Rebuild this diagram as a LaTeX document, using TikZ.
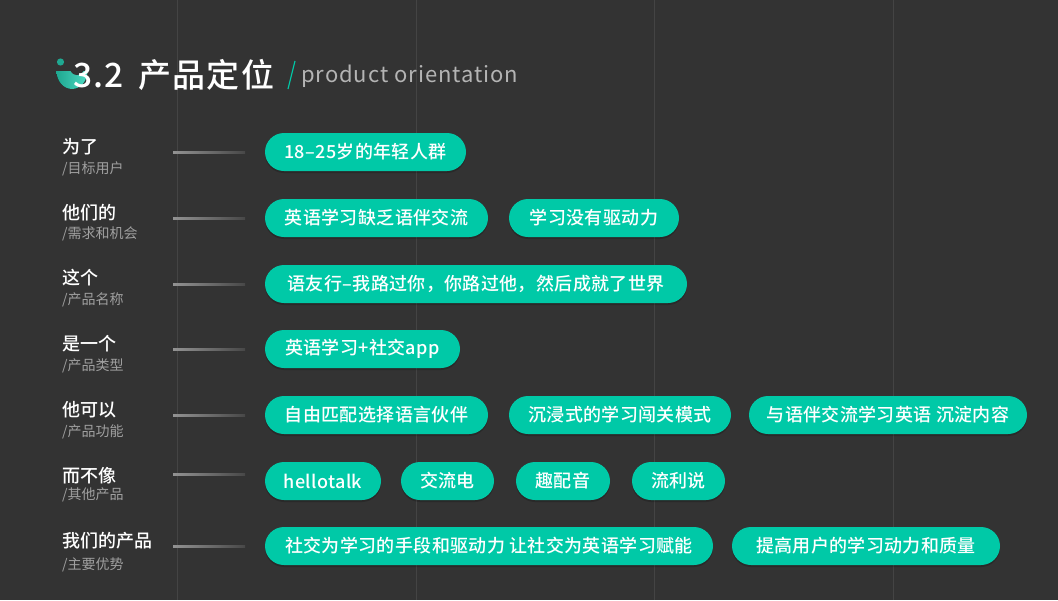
\documentclass[tikz,border=0pt]{standalone}
\usepackage{fontspec}
\setmainfont{Noto Sans CJK SC Medium}
\newfontfamily\titlefont[LetterSpace=4]{Noto Sans CJK SC Medium}
\newfontfamily\lightfont[LetterSpace=4.3]{Noto Sans CJK SC}
\newfontfamily\pillfont[LetterSpace=2]{Noto Sans CJK SC Medium}
\newfontfamily\subfont{Noto Sans CJK SC}
\usetikzlibrary{shadows}
\definecolor{bgdark}{HTML}{333333}
\definecolor{gridgray}{HTML}{444444}
\definecolor{pillgreen}{HTML}{00C9A7}
\definecolor{logogreen}{HTML}{1FA891}
\definecolor{subgray}{HTML}{A0A0A0}
\definecolor{engray}{HTML}{B4B4B4}
\tikzset{
  pill/.style={fill=pillgreen,rounded corners=19pt,minimum height=38pt,text=white,inner sep=0pt,
    font=\pillfont\fontsize{18}{18}\selectfont,
    drop shadow={shadow xshift=0pt,shadow yshift=-2pt,opacity=.18,fill=black}},
  rowlabel/.style={anchor=west,inner sep=0pt,text=white,font=\fontsize{18}{18}\selectfont},
  sublabel/.style={anchor=west,inner sep=0pt,text=subgray,font=\subfont\fontsize{14}{14}\selectfont},
}
\begin{document}
\begin{tikzpicture}[x=1pt,y=-1pt]
  \useasboundingbox (0,0) rectangle (1058,600);
  \fill[bgdark] (0,0) rectangle (1058,600);
  \foreach \gx in {177,416,654,893}
    \draw[gridgray,line width=1pt] (\gx,0) -- (\gx,600);

  % logo and title
  \fill[logogreen] (60.5,62) circle (3.6);
  \fill[left color=logogreen,right color=pillgreen!70!white] (56.5,71) arc (180:0:15.5 and 18) -- cycle;
  \fill[bgdark] (77,68) circle (7);
  \node[anchor=west,inner sep=0pt,text=white,font=\titlefont\fontsize{33.5}{34}\selectfont] (num) at (73,75.5) {3.2};
  \node[anchor=west,inner sep=0pt,text=white,font=\titlefont\fontsize{33}{33}\selectfont] (title) at (138,74.5) {产品定位};
  \draw[pillgreen,line width=1.2pt] (295,61) -- (288,89);
  \node[anchor=west,inner sep=0pt,text=engray,font=\lightfont\fontsize{22}{22}\selectfont] (subtitle) at (301,76) {product orientation};

  % left column
  \foreach \i/\ya/\yb/\yc/\a/\b in {
    1/147/169/152/为了/目标用户,
    2/213/234/218/他们的/需求和机会,
    3/278/300/284/这个/产品名称,
    4/344/366/349/是一个/产品类型,
    5/410/432/415/他可以/产品功能,
    6/476/495/474/而不像/其他产品,
    7/541/565/546/我们的产品/主要优势}{
    \node[rowlabel] (lab\i) at (62,\ya) {\a};
    \node[sublabel] (sub\i) at (62,\yb) {/\b};
    \coordinate (tickA\i) at (173,\yc);
    \coordinate (tickB\i) at (245,\yc);
    \shade[left color=gray!85,right color=bgdark!90!white] ([yshift=-1pt]tickA\i) rectangle ([yshift=1pt]tickB\i);
  }

  % pills
  \foreach \n/\xa/\xb/\y/\t in {
    p1/265/466/152/18–25岁的年轻人群,
    p2/265/488/218/英语学习缺乏语伴交流,
    p3/509/679/218/学习没有驱动力,
    p4/265/687/284/语友行–我路过你，你路过他，然后成就了世界,
    p5/265/460/349/英语学习+社交app,
    p6/265/488/415/自由匹配选择语言伙伴,
    p7/509/731/415/沉浸式的学习闯关模式,
    p8/749/1027/415/与语伴交流学习英语 沉淀内容,
    p9/265/381/481/hellotalk,
    p10/401/494/481/交流电,
    p11/516/610/481/趣配音,
    p12/632/725/481/流利说,
    p13/265/713/546/社交为学习的手段和驱动力 让社交为英语学习赋能,
    p14/732/1000/546/提高用户的学习动力和质量}{
    \pgfmathsetmacro{\pw}{\xb-\xa}
    \pgfmathsetmacro{\pc}{(\xa+\xb)/2}
    \node[pill,minimum width=\pw pt] (\n) at (\pc,\y) {\raisebox{-2pt}{\t}};
  }
\end{tikzpicture}
\end{document}
